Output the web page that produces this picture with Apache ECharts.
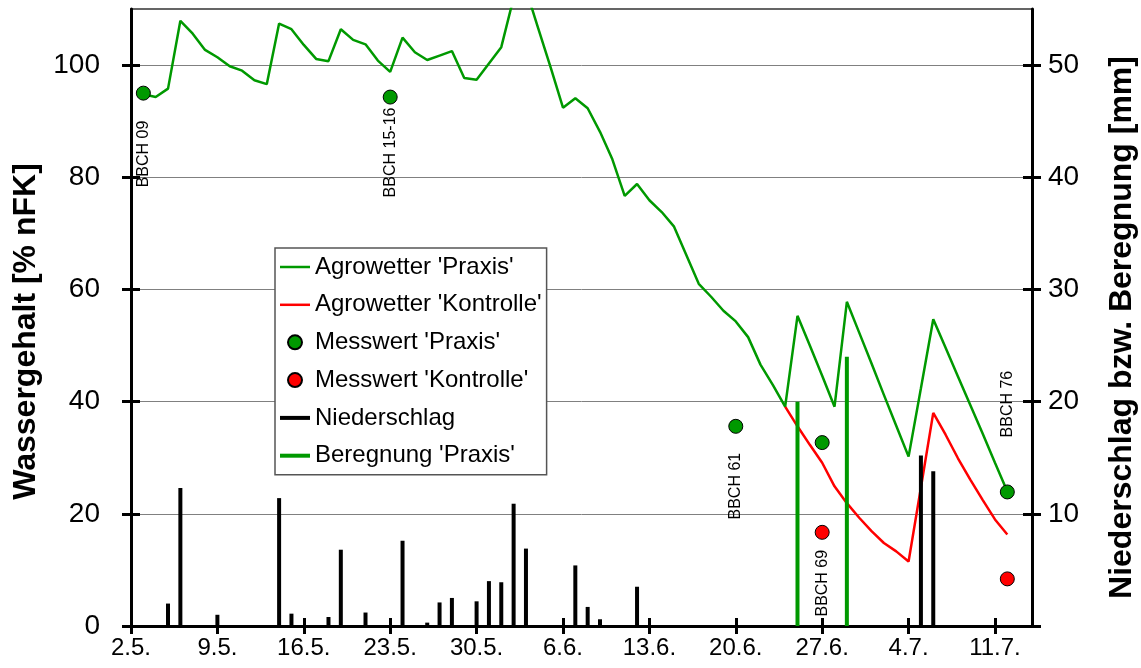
<!DOCTYPE html>
<html>
<head>
<meta charset="utf-8">
<script src="https://cdn.jsdelivr.net/npm/echarts@6/dist/echarts.min.js"></script>
<style>
html,body{margin:0;padding:0;background:#fff;}
#chart{width:1141px;height:668px;}
</style>
</head>
<body>
<div id="chart"></div>
<script>
// ---- data (day index 0 = 2.5.) ----
const dateLabels = ['2.5.','9.5.','16.5.','23.5.','30.5.','6.6.','13.6.','20.6.','27.6.','4.7.','11.7.'];
const leftTickValues = [0,20,40,60,80,100];
const rightTickValues = [0,10,20,30,40,50];
const rightLabelValues = [10,20,30,40,50];

const agrowetterPraxisStart = 1;
const agrowetterPraxis = [
  94.8,94.3,95.8,107.9,105.6,102.7,101.4,99.8,99.0,97.3,
  96.6,107.4,106.4,103.6,101.1,100.7,106.4,104.5,103.7,100.8,
  98.8,104.9,102.3,100.9,101.7,102.5,97.7,97.4,100.3,103.2,
  112.0,113.5,106.5,99.6,92.4,94.1,92.3,88.1,83.2,76.7,
  78.8,75.9,73.8,71.2,66.1,61.0,58.7,56.2,54.3,51.5,
  46.6,43.0,39.1,55.3,50.0,44.6,39.1,57.8,52.3,46.8,
  41.2,35.7,30.2,42.4,54.7,49.6,44.5,39.4,34.3,29.1,
  24.0
];
const agrowetterKontrolleStart = 53;
const agrowetterKontrolle = [
  39.1,35.6,32.3,29.1,24.9,21.9,19.3,16.9,14.8,13.3,
  11.5,24.7,38.0,34.1,29.9,26.1,22.5,19.0,16.3
];

const messPraxisDays = [1,21,49,56,71];
const messPraxisValues = [95.0,94.3,35.6,32.7,23.9];
const messPraxisBBCH = ['BBCH 09','BBCH 15-16','BBCH 61','','BBCH 76'];

const messKontrolleDays = [56,71];
const messKontrolleValues = [16.7,8.4];
const messKontrolleBBCH = ['BBCH 69',''];

const niederschlagDays = [3,4,7,12,13,16,17,19,22,24,25,26,28,29,30,31,32,36,37,38,41,64,65];
const niederschlagMm  = [2.0,12.3,1.0,11.4,1.1,0.8,6.8,1.2,7.6,0.3,2.1,2.5,2.2,4.0,3.9,10.9,6.9,5.4,1.7,0.6,3.5,15.2,13.8];

const beregnungDays = [54,58];
const beregnungMm = [20,24];

// ---- build ----
const font = "'Liberation Sans', Arial, Helvetica, sans-serif";
const GREEN = '#009900';
const RED = '#ff0000';
const tickDays = dateLabels.map((_, i) => i * 7);

function seriesFrom(start, arr) { return arr.map((v, i) => [start + i, v]); }
function pairs(xs, ys) { return xs.map((x, i) => [x, ys[i]]); }

// label placement styles (below marker unless above=true)
const praxisLabelStyle = [
  {above:false, dist:20}, {above:false, dist:3}, {above:false, dist:19}, null, {above:true, dist:47}
];
const kontrolleLabelStyle = [{above:false, dist:10}, null];

function bbchLabel(text, st) {
  if (!text || !st) return {show:false};
  return {
    show:true, formatter:text, position: st.above ? 'top' : 'bottom', distance: st.dist,
    rotate:90, align: st.above ? 'left' : 'right', verticalAlign:'middle',
    fontSize:16, color:'#000', fontFamily:font
  };
}

const axisLineStyle = {color:'#000', width:3};
const legendText = {fontSize:24, lineHeight:26, color:'#000', fontFamily:font};

const option = {
  animation:false,
  backgroundColor:'#fff',
  textStyle:{fontFamily:font, color:'#000'},
  grid:{left:131, right:109, top:9, bottom:42, show:true, borderColor:'#333', borderWidth:1.5,
        backgroundColor:'transparent', containLabel:false, outerBoundsMode:'none'},
  legend:[
    {
      data:[{name:"Agrowetter 'Praxis'", icon:'rect'},{name:"Agrowetter 'Kontrolle'", icon:'rect'}],
      orient:'vertical', left:275, top:248, padding:[6,5,157,5], itemGap:11.8,
      itemWidth:30, itemHeight:2.5, selectedMode:false,
      backgroundColor:'#fff', borderColor:'#555', borderWidth:1.5, borderRadius:0,
      textStyle:legendText
    },
    {
      data:["Messwert 'Praxis'","Messwert 'Kontrolle'"],
      orient:'vertical', left:282, top:329.3, padding:[0,5,0,5], itemGap:11.8,
      itemWidth:30, itemHeight:14, selectedMode:false,
      textStyle:legendText
    },
    {
      data:[{name:'Niederschlag', icon:'rect'},{name:"Beregnung 'Praxis'", icon:'rect'}],
      orient:'vertical', left:275, top:404.9, padding:[0,5,0,5], itemGap:11.8,
      itemWidth:30, itemHeight:4, selectedMode:false,
      textStyle:legendText
    }
  ],
  xAxis:[
    {
      type:'value', min:0, max:73, interval:7, position:'bottom',
      axisLine:{show:true, onZero:false, lineStyle:axisLineStyle},
      axisTick:{show:true, inside:false, length:8, lineStyle:axisLineStyle, customValues:tickDays},
      axisLabel:{show:true, customValues:tickDays, formatter:(v) => dateLabels[Math.round(v/7)] || '',
                 fontSize:24, color:'#000', margin:10, fontFamily:font},
      splitLine:{show:false}
    },
    {
      type:'value', min:0, max:73, interval:7, position:'bottom',
      axisLine:{show:false, onZero:false},
      axisTick:{show:true, inside:true, length:8, lineStyle:axisLineStyle, customValues:tickDays},
      axisLabel:{show:false}, splitLine:{show:false}
    }
  ],
  yAxis:[
    {
      type:'value', min:0, max:110, interval:20, position:'left',
      name:'Wassergehalt [% nFK]', nameLocation:'middle', nameGap:87,
      nameTextStyle:{fontSize:32, fontWeight:'bold', color:'#000', fontFamily:font, padding:[0,28,0,0]},
      axisLine:{show:true, onZero:false, lineStyle:axisLineStyle},
      axisTick:{show:true, inside:false, length:9, lineStyle:axisLineStyle, customValues:leftTickValues},
      axisLabel:{show:true, customValues:leftTickValues, fontSize:28, color:'#000', margin:31, fontFamily:font},
      splitLine:{show:true, lineStyle:{color:'#808080', width:1}}
    },
    {
      type:'value', min:0, max:55, interval:10, position:'right',
      name:'Niederschlag bzw. Beregnung [mm]', nameLocation:'middle', nameGap:74,
      nameTextStyle:{fontSize:32, fontWeight:'bold', color:'#000', fontFamily:font, padding:[0,20,0,0]},
      axisLine:{show:true, onZero:false, lineStyle:axisLineStyle},
      axisTick:{show:true, inside:false, length:9, lineStyle:axisLineStyle, customValues:rightTickValues},
      axisLabel:{show:true, customValues:rightLabelValues, fontSize:28, color:'#000', margin:16, fontFamily:font},
      splitLine:{show:false}
    },
    {
      type:'value', min:0, max:110, interval:20, position:'left',
      axisLine:{show:false, onZero:false},
      axisTick:{show:true, inside:true, length:9, lineStyle:axisLineStyle, customValues:leftTickValues},
      axisLabel:{show:false}, splitLine:{show:false}
    },
    {
      type:'value', min:0, max:55, interval:10, position:'right',
      axisLine:{show:false, onZero:false},
      axisTick:{show:true, inside:true, length:9, lineStyle:axisLineStyle, customValues:rightTickValues},
      axisLabel:{show:false}, splitLine:{show:false}
    }
  ],
  series:[
    {
      name:"Agrowetter 'Kontrolle'", type:'line', xAxisIndex:0, yAxisIndex:0,
      data:seriesFrom(agrowetterKontrolleStart, agrowetterKontrolle),
      symbol:'none', showSymbol:false, lineStyle:{color:RED, width:2.5}, itemStyle:{color:RED}, z:2
    },
    {
      name:"Agrowetter 'Praxis'", type:'line', xAxisIndex:0, yAxisIndex:0,
      data:seriesFrom(agrowetterPraxisStart, agrowetterPraxis),
      symbol:'none', showSymbol:false, lineStyle:{color:GREEN, width:2.5}, itemStyle:{color:GREEN}, z:3
    },
    {
      name:'Niederschlag', type:'bar', xAxisIndex:0, yAxisIndex:1,
      data:pairs(niederschlagDays, niederschlagMm), barWidth:4, barGap:'-100%',
      itemStyle:{color:'#000'}, z:4
    },
    {
      name:"Beregnung 'Praxis'", type:'bar', xAxisIndex:0, yAxisIndex:1,
      data:pairs(beregnungDays, beregnungMm), barWidth:4, barGap:'-100%',
      itemStyle:{color:GREEN}, z:4
    },
    {
      name:"Messwert 'Praxis'", type:'scatter', xAxisIndex:0, yAxisIndex:0,
      symbol:'circle', symbolSize:14,
      itemStyle:{color:GREEN, borderColor:'#000', borderWidth:1, opacity:1},
      data:messPraxisDays.map((d, i) => ({value:[d, messPraxisValues[i]], label:bbchLabel(messPraxisBBCH[i], praxisLabelStyle[i])})),
      z:6
    },
    {
      name:"Messwert 'Kontrolle'", type:'scatter', xAxisIndex:0, yAxisIndex:0,
      symbol:'circle', symbolSize:14,
      itemStyle:{color:RED, borderColor:'#000', borderWidth:1, opacity:1},
      data:messKontrolleDays.map((d, i) => ({value:[d, messKontrolleValues[i]], label:bbchLabel(messKontrolleBBCH[i], kontrolleLabelStyle[i])})),
      z:6
    }
  ]
};

const chart = echarts.init(document.getElementById('chart'), null, {renderer:'canvas'});
chart.setOption(option);
</script>
</body>
</html>
